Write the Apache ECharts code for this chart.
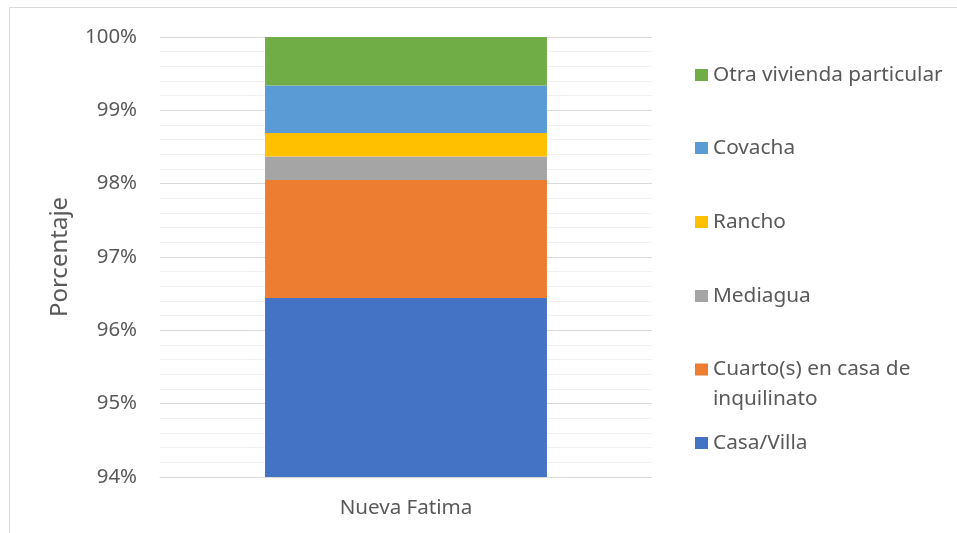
<!DOCTYPE html>
<html>
<head>
<meta charset="utf-8">
<script src="https://cdn.jsdelivr.net/npm/echarts@6/dist/echarts.min.js"></script>
<style>
  html, body { margin: 0; padding: 0; background: #fff; }
  #chart { width: 957px; height: 533px; }
</style>
</head>
<body>
<div id="chart"></div>
<script>
// Housing type shares for one neighbourhood (percent, stacked to 100)
const categories = ['Nueva Fatima'];
const seriesNames = ['Casa/Villa', 'Cuarto(s) en casa de inquilinato', 'Mediagua', 'Rancho', 'Covacha', 'Otra vivienda particular'];
const casaVilla = [96.44];
const cuartos = [1.61];
const mediagua = [0.32];
const rancho = [0.32];
const covacha = [0.65];
const otra = [0.66];
const yTicks = [94, 95, 96, 97, 98, 99, 100];

const values = [casaVilla, cuartos, mediagua, rancho, covacha, otra];
const colors = ['#4472c4', '#ed7d31', '#a5a5a5', '#ffc000', '#5b9bd5', '#70ad47'];
const FONT = '"Noto Sans", "Open Sans", sans-serif';
const TXT = '#595959';

// Legend entries, top to bottom, with the vertical centre of each icon
const legendLayout = [
  { name: 'Otra vivienda particular', cy: 75 },
  { name: 'Covacha', cy: 148 },
  { name: 'Rancho', cy: 222 },
  { name: 'Mediagua', cy: 296 },
  { name: 'Cuarto(s) en casa de inquilinato', cy: 369.5, wrap: true },
  { name: 'Casa/Villa', cy: 443 }
];

// The long entry wraps onto two lines; a leading empty line keeps the
// icon level with the first line of text.
const legends = legendLayout.map(l => ({
  data: [l.name],
  orient: 'vertical',
  left: 695,
  top: l.wrap ? l.cy - 45 : l.cy - 15,
  padding: 0,
  itemWidth: 13,
  itemHeight: 12,
  selectedMode: false,
  icon: 'rect',
  formatter: n => n === 'Cuarto(s) en casa de inquilinato' ? ' \nCuarto(s) en casa de\ninquilinato' : n,
  textStyle: { color: TXT, fontFamily: FONT, fontSize: 20.8, lineHeight: 30 }
}));

const chart = echarts.init(document.getElementById('chart'), null, { renderer: 'canvas' });
chart.setOption({
  animation: false,
  backgroundColor: '#fff',
  graphic: [{
    type: 'rect',
    shape: { x: 9.5, y: 7.5, width: 1200, height: 800 },
    style: { fill: 'none', stroke: '#d9d9d9', lineWidth: 1 },
    silent: true
  }],
  legend: legends,
  grid: { left: 160, right: 305, top: 37, bottom: 56 },
  xAxis: {
    type: 'category',
    data: categories,
    axisLine: { show: true, lineStyle: { color: '#d9d9d9', width: 1 } },
    axisTick: { show: false },
    axisLabel: { color: TXT, fontFamily: FONT, fontSize: 20.6, margin: 21 }
  },
  yAxis: {
    type: 'value',
    min: yTicks[0],
    max: yTicks[yTicks.length - 1],
    interval: 1,
    name: 'Porcentaje',
    nameLocation: 'middle',
    nameGap: 88,
    nameTextStyle: { color: TXT, fontFamily: FONT, fontSize: 24 },
    axisLine: { show: false },
    axisTick: { show: false },
    axisLabel: { color: TXT, fontFamily: FONT, fontSize: 20.4, margin: 23, formatter: '{value}%' },
    splitLine: { lineStyle: { color: '#d9d9d9', width: 1 } },
    minorTick: { show: false, splitNumber: 5 },
    minorSplitLine: { show: true, lineStyle: { color: '#f2f2f2', width: 1 } }
  },
  series: seriesNames.map((name, i) => ({
    name,
    type: 'bar',
    stack: 'total',
    barWidth: '57.3%',
    data: values[i],
    itemStyle: { color: colors[i] }
  }))
});
</script>
</body>
</html>
